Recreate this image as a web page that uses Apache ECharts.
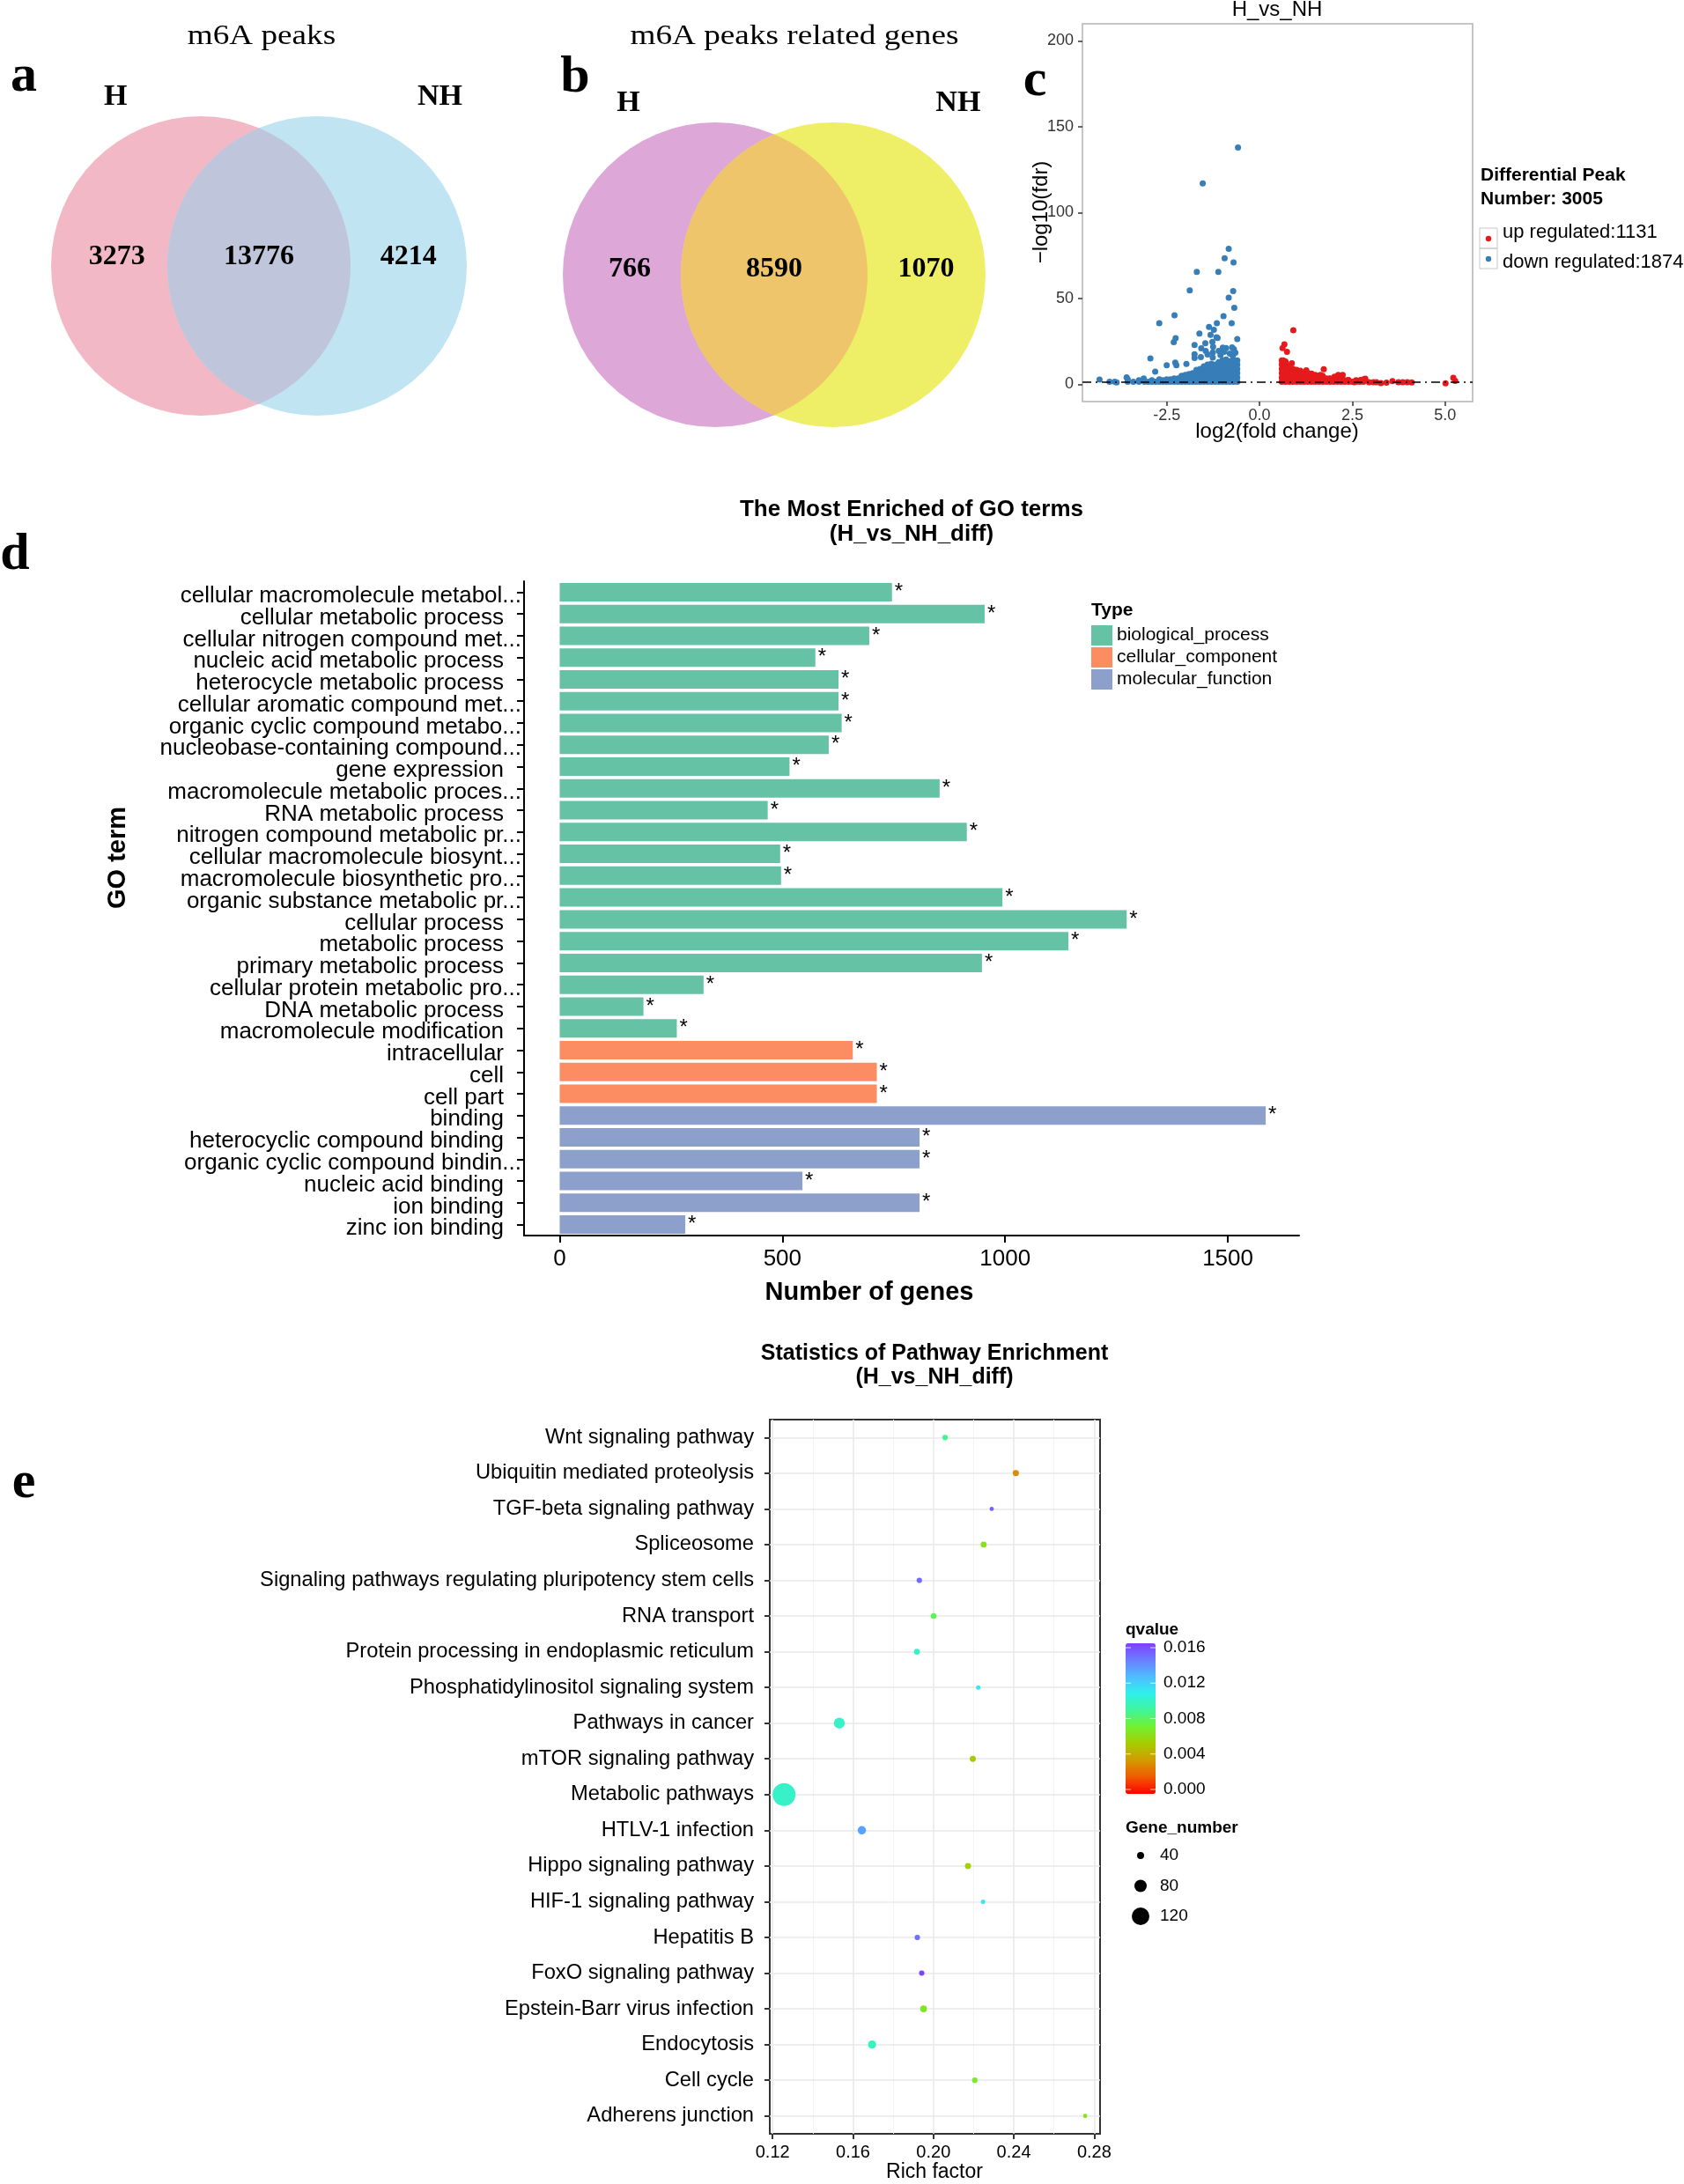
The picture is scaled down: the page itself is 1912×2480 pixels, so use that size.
<!DOCTYPE html>
<html>
<head>
<meta charset="utf-8">
<title>m6A peaks figure</title>
<script src="https://cdn.jsdelivr.net/npm/echarts@6.0.0/dist/echarts.min.js"></script>
<style>
  html, body { margin: 0; padding: 0; background: #fff; }
  #chart { width: 1912px; height: 2480px; }
</style>
</head>
<body>
<div id="chart"></div>
<script>
// ---------- 数据 ----------
// a / b 韦恩图：[仅H, 交集, 仅NH]
const vennPeaks = [3273, 13776, 4214];
const vennGenes = [766, 8590, 1070];
const vennGroups = ['H', 'NH'];

// c 火山图
const upCount = 1131;
const downCount = 1874;
const fdrCut = 1.3;
const volcanoXTicks = [-2.5, 0, 2.5, 5];
const volcanoYTicks = [0, 50, 100, 150, 200];
// [log2FC, -log10(fdr)]
const downPoints = [
  [-0.58,138],[-1.53,117],[-0.83,79],[-0.94,73.4],[-0.70,71],[-1.69,65.5],[-1.11,65.5],
  [-1.88,54.7],[-0.71,54.4],[-0.83,50.5],[-0.68,44.6],[-2.29,40.2],[-0.97,39.8],[-2.70,35.7],
  [-1.15,35.6],[-0.75,35.6],[-1.36,33.5],[-1.23,31.8],[-1.62,29.6],[-1.32,28.9],[-1.16,27.5],
  [-1.13,27],[-2.26,26.9],[-2.31,24.6],[-0.60,26.4],[-1.27,24.8],[-1.46,24],[-1.75,23],
  [-1.25,21.9],[-1.57,21],[-0.99,21.4],[-0.90,21.2],[-0.74,21.6],[-0.69,20.5],[-1.75,17.6],
  [-1.75,15.4],[-2.94,15.1],[-1.26,18.6],[-1.26,15.7],[-1.58,15.9],[-2.50,11.1],[-2.27,12.7],
  [-2.24,11.1],[-1.97,11.9],[-2.81,7.5],[-3.12,3.4],[-3.58,4.1],[-4.31,2.8],[-4.04,1.5],
  [-3.90,1.6],[-3.85,1.2],[-0.95,19],[-0.80,18],[-0.65,18.5],[-0.72,16.5],[-1.05,17],
  [-1.40,17.5],[-1.45,19.5],[-1.10,19.5],
  [-0.60,1.5],[-0.60,4],[-0.60,6.5],[-0.60,9],[-0.60,11.5],[-0.60,14],
  [-0.70,1.5],[-0.70,4],[-0.70,6.5],[-0.70,9],[-0.70,11.5],[-0.70,14],
  [-0.80,1.5],[-0.80,4],[-0.80,6.5],[-0.80,9],[-0.80,11.5],[-0.80,13.5],
  [-0.90,1.5],[-0.90,4],[-0.90,6.5],[-0.90,9],[-0.90,11.5],[-0.90,14.5],
  [-1.00,1.5],[-1.00,4],[-1.00,6.5],[-1.00,9],[-1.00,11.5],[-1.00,14],
  [-1.10,1.5],[-1.10,4],[-1.10,6.5],[-1.10,9],[-1.10,11.5],[-1.10,13],
  [-1.20,1.5],[-1.20,4],[-1.20,6.5],[-1.20,9],[-1.20,11.5],
  [-1.30,1.5],[-1.30,4],[-1.30,6.5],[-1.30,9],[-1.30,12],
  [-1.40,1.5],[-1.40,4],[-1.40,6.5],[-1.40,9],[-1.40,11.5],
  [-1.50,1.5],[-1.50,4],[-1.50,6.5],[-1.50,9],[-1.50,10.5],
  [-1.60,1.5],[-1.60,4],[-1.60,6.5],[-1.60,9],
  [-1.70,1.5],[-1.70,4],[-1.70,6.5],[-1.70,8.5],
  [-1.80,1.5],[-1.80,4],[-1.80,6.5],
  [-1.90,1.5],[-1.90,4],[-1.90,6],
  [-2.00,1.5],[-2.00,4],[-2.00,5.5],
  [-2.10,1.5],[-2.10,3.5],[-2.10,5],
  [-2.20,1.5],[-2.20,3.5],[-2.30,1.5],[-2.30,3.5],[-2.40,1.5],[-2.40,3],
  [-2.50,1.5],[-2.50,3],[-2.60,1.5],[-2.60,2.5],[-2.70,1.5],[-2.70,3],
  [-2.80,1.5],[-2.90,1.5],[-2.90,2.5],[-3.00,1.5],[-3.10,1.5],
  [-3.25,1.5],[-3.25,2.5],[-3.40,1.5],[-3.55,1.5],[-3.55,3]
];
const upPoints = [
  [0.91,31.5],[0.67,23.3],[0.62,21.2],[0.74,19],[0.64,14],[0.70,13.3],[0.87,12.3],
  [1.26,8.2],[1.73,8.9],[5.22,3.8],[5.27,2.1],[5.01,0.7],[4.10,1.2],[3.98,1.3],[3.86,1.3],
  [3.74,1.3],[3.58,1.9],[3.42,1.0],[3.27,0.8],[3.07,1.3],[2.85,3.3],[2.72,2.6],[2.55,1.3],
  [2.39,2.6],[2.24,5.5],[2.12,5.5],[2.02,4.5],[1.88,3.3],[1.64,5.5],[1.52,4.2],[1.40,6.3],
  [0.60,1.5],[0.60,4],[0.60,6.5],[0.60,9],[0.60,11.5],[0.60,14],
  [0.70,1.5],[0.70,4],[0.70,6.5],[0.70,9],[0.70,11.5],
  [0.80,1.5],[0.80,4],[0.80,6.5],[0.80,9],[0.80,11],
  [0.90,1.5],[0.90,4],[0.90,6.5],[0.90,9],
  [1.00,1.5],[1.00,4],[1.00,6.5],[1.00,8.5],
  [1.10,1.5],[1.10,4],[1.10,6.5],[1.10,8],
  [1.20,1.5],[1.20,4],[1.20,6.5],[1.30,1.5],[1.30,4],[1.30,6.5],
  [1.40,1.5],[1.40,4],[1.40,6],[1.50,1.5],[1.50,4],[1.50,5.5],
  [1.60,1.5],[1.60,4],[1.60,5],[1.70,1.5],[1.70,3.5],[1.70,5],
  [1.80,1.5],[1.80,3.5],[1.90,1.5],[1.90,3.5],[2.00,1.5],[2.00,3.5],
  [2.10,1.5],[2.10,3],[2.20,1.5],[2.20,3.5],[2.30,1.5],[2.30,2.5],
  [2.40,1.5],[2.40,2.5],[2.50,1.5],[2.60,1.5],[2.60,2.5],[2.70,1.5],
  [2.80,1.5],[2.80,3],[2.95,1.3],[3.15,1.3]
];

// d GO 富集柱状图
const goTerms = [
  'cellular macromolecule metabol...', 'cellular metabolic process', 'cellular nitrogen compound met...',
  'nucleic acid metabolic process', 'heterocycle metabolic process', 'cellular aromatic compound met...',
  'organic cyclic compound metabo...', 'nucleobase-containing compound...', 'gene expression',
  'macromolecule metabolic proces...', 'RNA metabolic process', 'nitrogen compound metabolic pr...',
  'cellular macromolecule biosynt...', 'macromolecule biosynthetic pro...', 'organic substance metabolic pr...',
  'cellular process', 'metabolic process', 'primary metabolic process',
  'cellular protein metabolic pro...', 'DNA metabolic process', 'macromolecule modification',
  'intracellular', 'cell', 'cell part',
  'binding', 'heterocyclic compound binding', 'organic cyclic compound bindin...',
  'nucleic acid binding', 'ion binding', 'zinc ion binding'
];
const goCounts = [746, 954, 695, 574, 626, 626, 633, 604, 516, 853, 467, 914, 495, 497, 994,
  1273, 1142, 948, 323, 188, 263, 658, 712, 712, 1585, 808, 808, 545, 808, 282];
const goTypes = ['BP','BP','BP','BP','BP','BP','BP','BP','BP','BP','BP','BP','BP','BP','BP',
  'BP','BP','BP','BP','BP','BP','CC','CC','CC','MF','MF','MF','MF','MF','MF'];
const goTypeNames = { BP: 'biological_process', CC: 'cellular_component', MF: 'molecular_function' };
const goXTicks = [0, 500, 1000, 1500];

// e KEGG 气泡图
const keggTerms = [
  'Wnt signaling pathway', 'Ubiquitin mediated proteolysis', 'TGF-beta signaling pathway', 'Spliceosome',
  'Signaling pathways regulating pluripotency stem cells', 'RNA transport',
  'Protein processing in endoplasmic reticulum', 'Phosphatidylinositol signaling system',
  'Pathways in cancer', 'mTOR signaling pathway', 'Metabolic pathways', 'HTLV-1 infection',
  'Hippo signaling pathway', 'HIF-1 signaling pathway', 'Hepatitis B', 'FoxO signaling pathway',
  'Epstein-Barr virus infection', 'Endocytosis', 'Cell cycle', 'Adherens junction'
];
const keggRich = [0.2058, 0.2410, 0.2290, 0.2250, 0.1930, 0.2001, 0.1918, 0.2223, 0.1532, 0.2196,
  0.1257, 0.1644, 0.2172, 0.2247, 0.1920, 0.1942, 0.1951, 0.1695, 0.2206, 0.2755];
const keggQ = [0.0088, 0.0029, 0.0155, 0.0062, 0.0152, 0.0078, 0.0100, 0.0112, 0.0100, 0.0050,
  0.0100, 0.0135, 0.0053, 0.0112, 0.0150, 0.0165, 0.0065, 0.0098, 0.0068, 0.0064];
const keggGenes = [28, 33, 19, 32, 28, 30, 32, 20, 70, 33, 160, 50, 33, 20, 28, 27, 39, 48, 28, 19];
const richMajor = [0.12, 0.16, 0.20, 0.24, 0.28];
const richMinor = [0.14, 0.18, 0.22, 0.26];
const qTicks = [0, 0.004, 0.008, 0.012, 0.016];
const geneTicks = [40, 80, 120];

// ---------- 样式 ----------
const SANS = '"Liberation Sans", Arial, sans-serif';
const SERIF = '"Liberation Serif", "Times New Roman", serif';
const upColor = '#e41a1c';
const downColor = '#377eb8';
const goColors = { BP: '#66c2a5', CC: '#fc8d62', MF: '#8da0cb' };
const qColors = ['#ff0000', '#f05a00', '#d49a00', '#a8cc00', '#72f030', '#3ff59a',
  '#30f0ec', '#4fbcff', '#6a7eff', '#8040ff'];
const qBar = { left: 1278, top: 1866, width: 34, height: 171, min: -0.0005, max: 0.0165 };
const geneSize = n => 2 + 0.15 * n;

function text(x, y, str, size, extra) {
  extra = extra || {};
  return {
    type: 'text', x: x, y: y, rotation: extra.rotation || 0, scaleX: extra.scaleX || 1,
    silent: true, z: 10,
    style: {
      text: str, fill: extra.color || '#000', fontSize: size,
      fontFamily: extra.family || SANS, fontWeight: extra.weight || 'normal',
      align: extra.align || 'center', verticalAlign: extra.valign || 'middle'
    }
  };
}

// 两圆交集（透镜形）多边形
function lens(c1, c2, r) {
  const d = c2[0] - c1[0];
  const a = Math.acos(d / 2 / r);
  const pts = [];
  for (let k = 0; k <= 40; k++) {
    const t = -a + 2 * a * k / 40;
    pts.push([c1[0] + r * Math.cos(t), c1[1] + r * Math.sin(t)]);
  }
  for (let k = 0; k <= 40; k++) {
    const t = Math.PI - a + 2 * a * k / 40;
    pts.push([c2[0] + r * Math.cos(t), c2[1] + r * Math.sin(t)]);
  }
  return pts;
}

function venn(c1, c2, r, colors, counts, labelY, groupY, title) {
  const els = [
    { type: 'circle', shape: { cx: c1[0], cy: c1[1], r: r }, style: { fill: colors[0] }, silent: true },
    { type: 'circle', shape: { cx: c2[0], cy: c2[1], r: r }, style: { fill: colors[1] }, silent: true },
    { type: 'polygon', shape: { points: lens(c1, c2, r) }, style: { fill: colors[2] }, silent: true }
  ];
  const mid = (c1[0] + c2[0]) / 2;
  const xs = [c1[0] - r * 0.56, mid, c2[0] + r * 0.61];
  counts.forEach((v, i) => els.push(text(xs[i], labelY, String(v), 32, { family: SERIF, weight: 'bold' })));
  els.push(text(c1[0] - r * 0.57, groupY, vennGroups[0], 34, { family: SERIF, weight: 'bold' }));
  els.push(text(c2[0] + r * 0.82, groupY, vennGroups[1], 34, { family: SERIF, weight: 'bold' }));
  els.push(text(mid + title.dx, 42, title.text, 31, { family: SERIF, scaleX: 1.2 }));
  return els;
}

const graphics = [];
graphics.push(...venn([228, 302], [360, 302], 170, ['#f2b8c5', '#c0e4f2', '#bfc5da'],
  vennPeaks, 292, 110, { text: 'm6A peaks', dx: 3 }));
graphics.push(...venn([812, 312], [946, 312], 173, ['#dda8d8', '#eeef66', '#eec56b'],
  vennGenes, 306, 117, { text: 'm6A peaks related genes', dx: 23 }));

// 面板字母
[['a', 27, 87], ['b', 653, 88], ['c', 1175, 92], ['d', 17, 630], ['e', 27, 1684]].forEach(p => {
  graphics.push(text(p[1], p[2], p[0], 60, { family: SERIF, weight: 'bold' }));
});

// c 标题、轴名、图例
const upName = 'up regulated:' + upCount;
const downName = 'down regulated:' + downCount;
graphics.push(text(1450, 11, 'H_vs_NH', 24));
graphics.push(text(1450, 490, 'log2(fold change)', 24));
graphics.push(text(1182, 241, '\u2212log10(fdr)', 24, { rotation: Math.PI / 2 }));
graphics.push(text(1681, 199, 'Differential Peak', 21, { weight: 'bold', align: 'left' }));
graphics.push(text(1681, 226, 'Number: ' + (upCount + downCount), 21, { weight: 'bold', align: 'left' }));
[[upName, upColor, 259, 264], [downName, downColor, 282, 298]].forEach(k => {
  graphics.push({ type: 'rect', shape: { x: 1680, y: k[2], width: 20, height: 23 }, style: { fill: 'none', stroke: '#c8c8c8', lineWidth: 1 }, silent: true });
  graphics.push({ type: 'circle', shape: { cx: 1690, cy: k[2] + 12, r: 3.2 }, style: { fill: k[1] }, silent: true });
  graphics.push(text(1706, k[3], k[0], 22, { align: 'left' }));
});

// d 标题与轴名
graphics.push(text(1035, 579, 'The Most Enriched of GO terms', 26, { weight: 'bold' }));
graphics.push(text(1035, 607, '(H_vs_NH_diff)', 26, { weight: 'bold' }));
graphics.push(text(987, 1468, 'Number of genes', 29, { weight: 'bold' }));
graphics.push(text(134, 974, 'GO term', 29, { weight: 'bold', rotation: Math.PI / 2 }));
graphics.push(text(1239, 693, 'Type', 21, { weight: 'bold', align: 'left' }));

// e 标题、轴名、图例
graphics.push(text(1061, 1537, 'Statistics of Pathway Enrichment', 25, { weight: 'bold' }));
graphics.push(text(1061, 1564, '(H_vs_NH_diff)', 25, { weight: 'bold' }));
graphics.push(text(1061, 2467, 'Rich factor', 23));
graphics.push(text(qBar.left, 1851, 'qvalue', 19, { weight: 'bold', align: 'left' }));
qTicks.forEach(q => {
  const y = qBar.top + qBar.height * (qBar.max - q) / (qBar.max - qBar.min);
  graphics.push(text(qBar.left + 43, y, q.toFixed(3), 19, { align: 'left' }));
  graphics.push({ type: 'line', shape: { x1: qBar.left, y1: y, x2: qBar.left + 6, y2: y }, style: { stroke: 'rgba(255,255,255,0.8)', lineWidth: 1 }, silent: true, z: 20 });
  graphics.push({ type: 'line', shape: { x1: qBar.left + qBar.width - 6, y1: y, x2: qBar.left + qBar.width, y2: y }, style: { stroke: 'rgba(255,255,255,0.8)', lineWidth: 1 }, silent: true, z: 20 });
});
graphics.push(text(qBar.left, 2076, 'Gene_number', 19, { weight: 'bold', align: 'left' }));
geneTicks.forEach((n, i) => {
  const y = 2107 + i * 34.5;
  graphics.push({ type: 'circle', shape: { cx: 1295, cy: y, r: geneSize(n) / 2 }, style: { fill: '#000' }, silent: true });
  graphics.push(text(1317, y, String(n), 19, { align: 'left' }));
});

// ---------- 系列 ----------
const goSeries = Object.keys(goTypeNames).map(t => ({
  name: goTypeNames[t], type: 'bar', stack: 'go', xAxisIndex: 1, yAxisIndex: 1, barWidth: 21,
  itemStyle: { color: goColors[t] },
  label: { show: true, position: 'right', formatter: '*', fontSize: 24, color: '#000', distance: 3, fontFamily: SANS },
  data: goCounts.map((v, i) => goTypes[i] === t ? v : '-')
}));

const gridLines = []
  .concat(richMajor.map(v => ({ xAxis: v, lineStyle: { color: '#e8e8e8', width: 1.5, type: 'solid' } })))
  .concat(richMinor.map(v => ({ xAxis: v, lineStyle: { color: '#f4f4f4', width: 1, type: 'solid' } })))
  .concat(keggTerms.map((t, i) => ({ yAxis: i, lineStyle: { color: '#e8e8e8', width: 1.5, type: 'solid' } })));

const option = {
  animation: false,
  backgroundColor: '#fff',
  textStyle: { fontFamily: SANS },
  grid: [
    { left: 1229, top: 27, width: 443, height: 429, show: true, borderColor: '#b3b3b3', borderWidth: 1.5 },
    { left: 595, top: 660, width: 880, height: 743 },
    { left: 874, top: 1612, width: 375, height: 811, show: true, borderColor: '#333', borderWidth: 2 }
  ],
  xAxis: [
    {
      gridIndex: 0, type: 'value', min: -4.77, max: 5.74,
      axisLine: { show: false, onZero: false },
      axisTick: { show: true, customValues: volcanoXTicks, length: 5, lineStyle: { color: '#333', width: 1.5 } },
      axisLabel: { customValues: volcanoXTicks, formatter: v => v.toFixed(1), fontSize: 18, color: '#333', margin: 7 },
      splitLine: { show: false }
    },
    {
      gridIndex: 1, type: 'value', min: -80, max: 1660,
      axisLine: { show: true, onZero: false, lineStyle: { color: '#000', width: 2 } },
      axisTick: { show: true, customValues: goXTicks, length: 8, lineStyle: { color: '#000', width: 2 } },
      axisLabel: { customValues: goXTicks, formatter: v => String(v), fontSize: 26, color: '#000', margin: 14 },
      splitLine: { show: false }
    },
    {
      gridIndex: 2, type: 'value', min: 0.1186, max: 0.2829,
      axisLine: { show: false, onZero: false },
      axisTick: { show: true, customValues: richMajor, length: 6, lineStyle: { color: '#333', width: 2 } },
      axisLabel: { customValues: richMajor, formatter: v => v.toFixed(2), fontSize: 20, color: '#000', margin: 11 },
      splitLine: { show: false }
    }
  ],
  yAxis: [
    {
      gridIndex: 0, type: 'value', min: -10, max: 210,
      axisLine: { show: false, onZero: false },
      axisTick: { show: true, customValues: volcanoYTicks, length: 5, lineStyle: { color: '#333', width: 1.5 } },
      axisLabel: { customValues: volcanoYTicks, fontSize: 18, color: '#333', margin: 10 },
      splitLine: { show: false }
    },
    {
      gridIndex: 1, type: 'category', data: goTerms, inverse: true,
      axisLine: { show: true, onZero: false, lineStyle: { color: '#000', width: 2 } },
      axisTick: { show: true, alignWithLabel: true, length: 8, lineStyle: { color: '#000', width: 2 } },
      axisLabel: {
        interval: 0, margin: 3, color: '#000',
        formatter: v => v.endsWith('...') ? '{t|' + v + '}' : '{t|' + v + '}{s| }',
        rich: {
          t: { fontSize: 26, fontFamily: SANS, color: '#000', padding: [9, 0, 0, 0] },
          s: { width: 20, fontSize: 26, padding: [9, 0, 0, 0] }
        }
      },
      splitLine: { show: false }
    },
    {
      gridIndex: 2, type: 'category', data: keggTerms, inverse: true,
      axisLine: { show: false, onZero: false },
      axisTick: { show: true, alignWithLabel: true, length: 6, lineStyle: { color: '#333', width: 2 } },
      axisLabel: { interval: 0, fontSize: 23.7, color: '#000', margin: 18 },
      splitLine: { show: false }
    }
  ],
  legend: {
    data: Object.values(goTypeNames), orient: 'vertical', left: 1239, top: 710, padding: 0,
    itemWidth: 24, itemHeight: 23, itemGap: 2, icon: 'rect', selectedMode: false,
    textStyle: { fontSize: 21, lineHeight: 23, color: '#000', fontFamily: SANS }
  },
  visualMap: {
    type: 'continuous', seriesIndex: 6, dimension: 2, min: qBar.min, max: qBar.max,
    calculable: false, orient: 'vertical', left: qBar.left, top: qBar.top, padding: 0,
    itemWidth: qBar.width, itemHeight: qBar.height, text: null, hoverLink: false,
    inRange: { color: qColors }
  },
  series: [
    {
      name: upName, type: 'scatter', xAxisIndex: 0, yAxisIndex: 0, symbolSize: 7,
      itemStyle: { color: upColor, opacity: 1 }, data: upPoints
    },
    {
      name: downName, type: 'scatter', xAxisIndex: 0, yAxisIndex: 0, symbolSize: 7,
      itemStyle: { color: downColor, opacity: 1 }, data: downPoints,
      markLine: {
        silent: true, symbol: 'none', label: { show: false },
        lineStyle: { color: '#000', width: 1.5, type: [10, 5, 2, 5] },
        data: [{ yAxis: fdrCut }]
      }
    },
    ...goSeries,
    {
      // 网格线（放在气泡下面）
      type: 'scatter', xAxisIndex: 2, yAxisIndex: 2, z: 1, data: [],
      markLine: { z: 1, silent: true, symbol: 'none', label: { show: false }, animation: false, data: gridLines }
    },
    {
      name: 'kegg', type: 'scatter', xAxisIndex: 2, yAxisIndex: 2, z: 6,
      symbolSize: v => geneSize(v[3]),
      itemStyle: { opacity: 1 },
      data: keggTerms.map((t, i) => [keggRich[i], t, keggQ[i], keggGenes[i]])
    }
  ],
  graphic: { elements: graphics }
};

const chart = echarts.init(document.getElementById('chart'), null, { renderer: 'canvas' });
chart.setOption(option);
</script>
</body>
</html>
